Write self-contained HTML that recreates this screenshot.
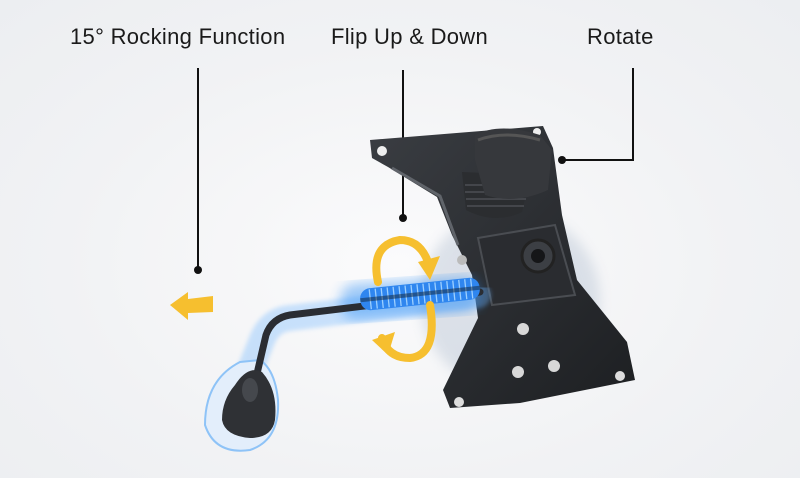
<!DOCTYPE html>
<html><head><meta charset="utf-8"><style>
html,body{margin:0;padding:0;}
body{width:800px;height:478px;overflow:hidden;background:radial-gradient(ellipse at 50% 55%,#fbfbfc 0%,#f1f2f4 60%,#eceef1 100%);font-family:"Liberation Sans",sans-serif;position:relative;}
.t{position:absolute;top:24px;font-size:22px;color:#1a1a1a;white-space:nowrap;letter-spacing:0.3px}
</style></head><body>
<div class="t" style="left:70px">15° Rocking Function</div>
<div class="t" style="left:331px">Flip Up &amp; Down</div>
<div class="t" style="left:587px">Rotate</div>
<svg width="800" height="478" style="position:absolute;left:0;top:0">
<defs>
<filter id="b"><feGaussianBlur stdDeviation="6"/></filter>
<filter id="b2"><feGaussianBlur stdDeviation="2"/></filter>
<linearGradient id="pl" x1="0" y1="0" x2="1" y2="1"><stop offset="0" stop-color="#3a3d42"/><stop offset="1" stop-color="#1d1f22"/></linearGradient>
</defs>
<g stroke="#111" stroke-width="2" fill="none">
<path d="M198 68V270"/><path d="M403 70V218"/><path d="M633 68V160H562"/>
</g>
<g fill="#111"><circle cx="198" cy="270" r="4"/><circle cx="403" cy="218" r="4"/><circle cx="562" cy="160" r="4"/></g>
<ellipse cx="510" cy="300" rx="90" ry="90" fill="#b8c4d4" opacity="0.45" filter="url(#b)"/>
<!-- plate -->
<path d="M370 140 L543 126 L553 148 L562 215 L577 280 L627 342 L635 380 L520 403 L450 408 L443 390 L478 318 L472 275 L452 235 L437 197 L388 167 L372 158 Z" fill="url(#pl)"/>
<path d="M392 168 L440 196 L458 245" stroke="#60646a" stroke-width="3" fill="none"/>
<circle cx="382" cy="151" r="5" fill="#eee"/><circle cx="537" cy="132" r="4" fill="#eee"/>
<circle cx="523" cy="329" r="6" fill="#d8d8d8"/><circle cx="518" cy="372" r="6" fill="#d8d8d8"/><circle cx="554" cy="366" r="6" fill="#d8d8d8"/>
<circle cx="459" cy="402" r="5" fill="#ddd"/><circle cx="620" cy="376" r="5" fill="#ddd"/>
<!-- bracket -->
<path d="M478 238 L555 225 L575 295 L492 305 Z" fill="#2a2c30" stroke="#4a4d52" stroke-width="2"/>
<circle cx="538" cy="256" r="16" fill="#3c3f44" stroke="#222" stroke-width="3"/>
<circle cx="538" cy="256" r="7" fill="#151618"/>
<!-- knob -->
<path d="M462 172 L466 210 Q495 225 522 212 L530 175 Z" fill="#2b2d30"/>
<g stroke="#4c4f54" stroke-width="1.5"><path d="M465 185H528M465 192H528M466 199H526M467 206H524"/></g>
<path d="M475 135 Q500 122 540 135 L552 150 L548 190 Q515 205 485 195 L475 160 Z" fill="#36383c"/>
<path d="M478 140 Q505 130 540 140" stroke="#555" stroke-width="3" fill="none"/>
<circle cx="462" cy="260" r="5" fill="#bbb"/>
<!-- glow -->
<path d="M478 295 L290 318 Q270 320 262 340 L250 370" stroke="#6fb6ff" stroke-width="26" fill="none" opacity="0.35" filter="url(#b2)" stroke-linecap="round"/>
<path d="M240 362 Q205 380 205 425 Q215 455 250 450 Q280 440 278 400 Q275 370 260 360 Z" fill="#e3eefb" stroke="#8ec3f7" stroke-width="2"/>
<rect x="340" y="280" width="140" height="36" rx="16" fill="#2f8ff5" opacity="0.45" filter="url(#b)" transform="rotate(-4 410 298)"/>
<path d="M480 292 L290 315 Q272 318 266 335 L256 378" stroke="#2a2d33" stroke-width="7" fill="none" stroke-linecap="round"/>
<g transform="rotate(-6 420 294)">
<rect x="360" y="283" width="120" height="22" rx="10" fill="#2f86ef"/>
<g stroke="#9dd0ff" stroke-width="1.3">
<path d="M370 284V304M376 284V304M382 284V304M388 284V304M394 284V304M400 284V304M406 284V304M412 284V304M418 284V304M424 284V304M430 284V304M436 284V304M442 284V304M448 284V304M454 284V304M460 284V304M466 284V304M472 284V304"/></g>
<rect x="360" y="292" width="120" height="4" fill="#123" opacity="0.5"/>
</g>
<path d="M235 385 Q248 365 262 372 Q278 390 275 420 Q272 438 250 438 Q225 436 222 420 Q222 400 235 385 Z" fill="#2f3135"/>
<ellipse cx="250" cy="390" rx="8" ry="12" fill="#45484d"/>
<g stroke="#f6bf2f" stroke-width="8" fill="none" stroke-linecap="round">
<path d="M378 282 Q370 245 400 240 Q420 240 428 262"/>
<path d="M430 305 Q438 355 410 358 Q388 358 382 338"/>
</g>
<g fill="#f6bf2f">
<path d="M418 262 L440 256 L430 280 Z"/>
<path d="M372 340 L395 332 L388 355 Z"/>
<path d="M170 305 L188 292 L188 299 L213 296 L213 312 L188 313 L188 320 Z"/>
</g>
</svg>
</body></html>
